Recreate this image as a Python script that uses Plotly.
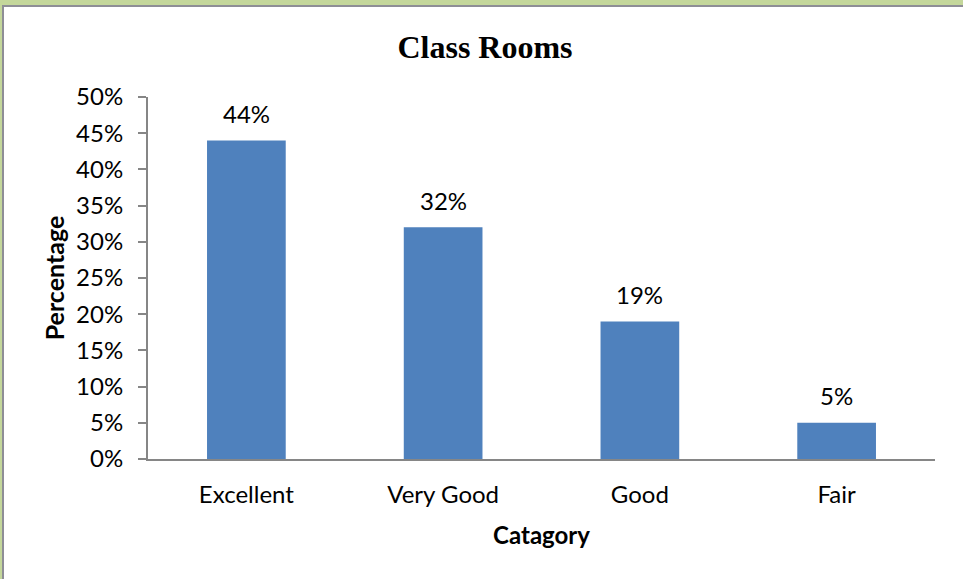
import plotly.graph_objects as go

categories = ["Excellent", "Very Good", "Good", "Fair"]
values = [44, 32, 19, 5]
label_texts = ["44%", "32%", "19%", "5%"]
y_tick_vals = [0, 5, 10, 15, 20, 25, 30, 35, 40, 45, 50]
y_tick_text = ["0%", "5%", "10%", "15%", "20%", "25%", "30%", "35%", "40%", "45%", "50%"]

W, H = 963, 579
ML, MR, MT, MB = 148, 28, 97, 120
PW, PH = W - ML - MR, H - MT - MB

def px_x(p):
    return (p - ML) / PW

def px_y(p):
    return (H - MB - p) / PH

FONT = "Lato"

fig = go.Figure()
fig.add_trace(go.Bar(
    x=categories, y=values, width=0.4,
    marker=dict(color="#4F81BD", line=dict(width=0)),
    hoverinfo="skip",
))

for c, v, t in zip(categories, values, label_texts):
    fig.add_annotation(x=c, y=v, text=t, showarrow=False, yshift=27,
                       yanchor="middle", font=dict(family=FONT, size=24, color="#000000"))

fig.add_shape(type="rect", xref="paper", yref="paper", layer="below",
              x0=px_x(3), x1=px_x(970), y0=px_y(590), y1=px_y(6),
              fillcolor="#FFFFFF", line=dict(color="#8E8E96", width=2))

fig.update_layout(
    width=W, height=H,
    margin=dict(l=ML, r=MR, t=MT, b=MB, pad=0),
    paper_bgcolor="#C4D79B",
    plot_bgcolor="#FFFFFF",
    showlegend=False,
    bargap=0.6,
    title=dict(text="<b>Class Rooms</b>", x=485 / W, xref="container", xanchor="center",
               y=1 - 47 / H, yref="container", yanchor="middle",
               font=dict(family="Liberation Serif", size=32, color="#000000")),
    xaxis=dict(
        showline=True, linecolor="#868686", linewidth=2,
        ticks="", showgrid=False,
        tickfont=dict(family=FONT, size=24, color="#000000"),
        ticklabelstandoff=13,
        title=dict(text="<b>Catagory</b>", font=dict(family=FONT, size=24, color="#000000"), standoff=20),
    ),
    yaxis=dict(
        range=[0, 50], tickvals=y_tick_vals, ticktext=y_tick_text,
        showline=True, linecolor="#868686", linewidth=2,
        ticks="outside", ticklen=8, tickcolor="#868686", tickwidth=2,
        showgrid=False, zeroline=False,
        tickfont=dict(family=FONT, size=24, color="#000000"),
        ticklabelstandoff=10,
        title=dict(text="<b>Percentage</b>", font=dict(family=FONT, size=25, color="#000000"), standoff=4),
    ),
)

fig.write_html("out.html", config={"displayModeBar": False},
               post_script="document.body.style.margin='0';document.body.style.padding='0';")
